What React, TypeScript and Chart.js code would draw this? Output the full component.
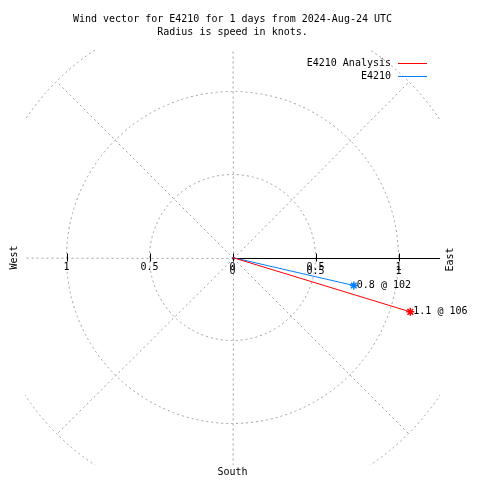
import React, { useEffect, useRef } from "react";
import { Chart, registerables } from "chart.js";

Chart.register(...registerables);

// Data
const seriesNames = ["E4210 Analysis", "E4210"];
const seriesColors = ["#ff0000", "#0080ff"];
const speeds = [1.12, 0.75]; // knots
const directions = [107, 103]; // degrees, clockwise from north
const vectorLabels = ["1.1 @ 106", "0.8 @ 102"];
const ringRadii = [0.5, 1, 1.5];
const axisTicks = [-1, -0.5, 0, 0.5, 1];
const radialTicks = [0, 0.5, 1];
const titleLines = [
  "Wind vector for E4210 for 1 days from 2024-Aug-24 UTC",
  "Radius is speed in knots.",
];
const RMAX = 1.25;

const FONT = "10px 'DejaVu Sans Mono', monospace";

function toXY(speed: number, dir: number) {
  const a = (dir * Math.PI) / 180;
  return { x: speed * Math.sin(a), y: speed * Math.cos(a) };
}

const polarPlugin = {
  id: "polarGrid",
  beforeDatasetsDraw(chart: any) {
    const { ctx, chartArea } = chart;
    const xs = chart.scales.x;
    const ys = chart.scales.y;
    const cx = xs.getPixelForValue(0);
    const cy = ys.getPixelForValue(0);
    const unit = xs.getPixelForValue(1) - cx;
    ctx.save();
    ctx.beginPath();
    ctx.rect(chartArea.left, chartArea.top, chartArea.right - chartArea.left, chartArea.bottom - chartArea.top);
    ctx.clip();
    ctx.strokeStyle = "#a0a0a0";
    ctx.lineWidth = 1;
    ctx.setLineDash([2, 3]);
    ringRadii.forEach((r) => {
      ctx.beginPath();
      ctx.arc(cx, cy, r * unit, 0, Math.PI * 2);
      ctx.stroke();
    });
    const rOuter = ringRadii[ringRadii.length - 1];
    for (let deg = 0; deg < 360; deg += 45) {
      if (deg === 90) continue; // east side is the solid r axis
      const p = toXY(rOuter, deg);
      ctx.beginPath();
      ctx.moveTo(Math.round(cx) + 0.5, Math.round(cy) + 0.5);
      ctx.lineTo(xs.getPixelForValue(p.x) + 0.5, ys.getPixelForValue(p.y) + 0.5);
      ctx.stroke();
    }
    ctx.setLineDash([]);
    ctx.strokeStyle = "#000000";
    ctx.beginPath();
    ctx.moveTo(cx, Math.round(cy) + 0.5);
    ctx.lineTo(xs.getPixelForValue(RMAX), Math.round(cy) + 0.5);
    ctx.stroke();
    axisTicks.forEach((t) => {
      const px = Math.round(xs.getPixelForValue(t)) + 0.5;
      ctx.beginPath();
      ctx.moveTo(px, cy - 4);
      ctx.lineTo(px, cy + 4);
      ctx.stroke();
    });
    ctx.restore();
  },
  afterDraw(chart: any) {
    const { ctx, chartArea } = chart;
    const xs = chart.scales.x;
    const ys = chart.scales.y;
    const cx = xs.getPixelForValue(0);
    const cy = ys.getPixelForValue(0);
    ctx.save();
    ctx.font = FONT;
    ctx.fillStyle = "#000000";
    ctx.textBaseline = "middle";
    ctx.textAlign = "center";
    ctx.fillText(titleLines[0], cx, 19);
    ctx.fillText(titleLines[1], cx, 32);
    // tick labels
    axisTicks.forEach((t) => {
      ctx.fillText(String(Math.abs(t)), xs.getPixelForValue(t), cy + 10);
    });
    radialTicks.forEach((t) => {
      ctx.fillText(String(t), xs.getPixelForValue(t), cy + 14);
    });
    // compass labels
    ctx.fillText("South", cx, chartArea.bottom + 7);
    ctx.save();
    ctx.translate(14, cy);
    ctx.rotate(-Math.PI / 2);
    ctx.fillText("West", 0, 0);
    ctx.restore();
    ctx.save();
    ctx.translate(450, cy + 2);
    ctx.rotate(-Math.PI / 2);
    ctx.fillText("East", 0, 0);
    ctx.restore();
    // legend
    ctx.textAlign = "right";
    seriesNames.forEach((name, i) => {
      const y = 63 + i * 13;
      ctx.fillStyle = "#000000";
      ctx.fillText(name, 391, y);
      ctx.strokeStyle = seriesColors[i];
      ctx.lineWidth = 1;
      ctx.beginPath();
      ctx.moveTo(398, y + 0.5);
      ctx.lineTo(427, y + 0.5);
      ctx.stroke();
    });
    // vector labels
    ctx.textAlign = "left";
    ctx.fillStyle = "#000000";
    chart.data.datasets.forEach((ds: any, i: number) => {
      const meta = chart.getDatasetMeta(i);
      const pt = meta.data[1];
      ctx.fillText(vectorLabels[i], pt.x + 3, pt.y);
    });
    ctx.restore();
  },
};

export default function App() {
  const ref = useRef<HTMLCanvasElement | null>(null);
  useEffect(() => {
    document.body.style.margin = "0";
    const datasets = seriesNames.map((name, i) => {
      const end = toXY(speeds[i], directions[i]);
      return {
        label: name,
        data: [
          { x: 0, y: 0 },
          { x: end.x, y: end.y },
        ],
        showLine: true,
        borderColor: seriesColors[i],
        backgroundColor: seriesColors[i],
        borderWidth: 1,
        pointStyle: "star",
        pointRadius: [0, 4],
        pointBorderWidth: 1.5,
        pointBorderColor: seriesColors[i],
      };
    });
    const chart = new Chart(ref.current as HTMLCanvasElement, {
      type: "scatter",
      data: { datasets: datasets as any },
      options: {
        animation: false,
        responsive: false,
        layout: { padding: { left: 25, right: 40, top: 50, bottom: 15 } },
        scales: {
          x: { type: "linear", min: -RMAX, max: RMAX, display: false },
          y: { type: "linear", min: -RMAX, max: RMAX, display: false },
        },
        plugins: {
          legend: { display: false },
          tooltip: { enabled: false },
          title: { display: false },
        },
      },
      plugins: [polarPlugin],
    });
    return () => chart.destroy();
  }, []);
  return (
    <div style={{ position: "absolute", left: 0, top: 0, width: 480, height: 480, background: "#fff" }}>
      <canvas ref={ref} width={480} height={480} style={{ width: 480, height: 480 }} />
    </div>
  );
}
